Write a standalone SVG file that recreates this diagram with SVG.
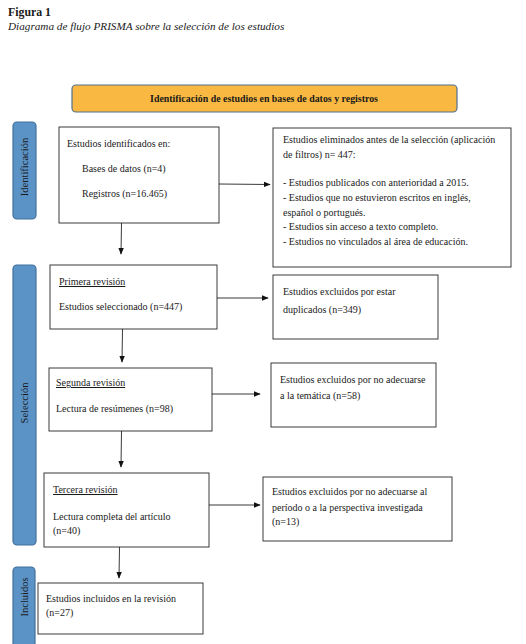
<svg xmlns="http://www.w3.org/2000/svg" width="526" height="644" viewBox="0 0 526 644">
<style>
text{font-family:"Liberation Serif","Times New Roman",serif;fill:#1a1a1a;font-size:10px}
.box{fill:#fff;stroke:#3a3a3a;stroke-width:1}
.side{fill:#5b93c7;stroke:#41719c;stroke-width:1.2}
.lbl{font-size:10.5px;text-anchor:middle}
.u{text-decoration:underline}
.con line{stroke:#222;stroke-width:0.9;marker-end:url(#ah)}
</style>
<defs>
<marker id="ah" viewBox="0 0 10 10" refX="9" refY="5" markerWidth="7" markerHeight="7" markerUnits="userSpaceOnUse" orient="auto">
<path d="M0,1 L10,5 L0,9 z" fill="#111"/>
</marker>
</defs>
<rect width="526" height="644" fill="#fff"/>
<g id="caption">
<text x="8" y="16" style="font-size:11.8px;font-weight:bold">Figura 1</text>
<text x="8" y="30" style="font-size:11.2px;font-style:italic">Diagrama de flujo PRISMA sobre la selección de los estudios</text>
</g>
<g id="header">
<rect x="72" y="85" width="385" height="27" rx="4" fill="#f8b841" stroke="#51708f" stroke-width="1.2"/>
<text x="264" y="101.5" style="font-size:9.9px;font-weight:bold;text-anchor:middle">Identificación de estudios en bases de datos y registros</text>
</g>
<g id="side-identificacion">
<rect class="side" x="13" y="122" width="23" height="97" rx="4"/>
<text class="lbl" transform="translate(28,167) rotate(-90)">Identificación</text>
</g>
<g id="side-seleccion">
<rect class="side" x="13" y="265" width="23" height="280" rx="4"/>
<text class="lbl" transform="translate(28,403) rotate(-90)">Selección</text>
</g>
<g id="side-incluidos">
<rect class="side" x="13" y="567" width="22" height="82" rx="4"/>
<text class="lbl" transform="translate(27.5,597) rotate(-90)">Incluidos</text>
</g>
<g id="n-identificados">
<rect class="box" x="59" y="127" width="160" height="96"/>
<text x="67" y="147">Estudios identificados en:</text>
<text x="82" y="172">Bases de datos (n=4)</text>
<text x="82" y="197">Registros (n=16.465)</text>
</g>
<g id="n-eliminados">
<rect class="box" x="273" y="128" width="238" height="139"/>
<text x="283" y="143">Estudios eliminados antes de la selección (aplicación</text>
<text x="283" y="158">de filtros) n= 447:</text>
<text x="283" y="186">- Estudios publicados con anterioridad a 2015.</text>
<text x="283" y="201">- Estudios que no estuvieron escritos en inglés,</text>
<text x="283" y="216">español o portugués.</text>
<text x="283" y="230">- Estudios sin acceso a texto completo.</text>
<text x="283" y="245">- Estudios no vinculados al área de educación.</text>
</g>
<g id="n-primera">
<rect class="box" x="50" y="265" width="167" height="64"/>
<text x="59" y="285" class="u">Primera revisión</text>
<text x="59" y="310">Estudios seleccionado (n=447)</text>
</g>
<g id="n-duplicados">
<rect class="box" x="273" y="275" width="165" height="64"/>
<text x="283" y="295">Estudios excluidos por estar</text>
<text x="283" y="313">duplicados (n=349)</text>
</g>
<g id="n-segunda">
<rect class="box" x="49" y="368" width="163" height="63"/>
<text x="56" y="386" class="u">Segunda revisión</text>
<text x="56" y="412">Lectura de resúmenes (n=98)</text>
</g>
<g id="n-tematica">
<rect class="box" x="271" y="363" width="165" height="64"/>
<text x="280" y="383">Estudios excluidos por no adecuarse</text>
<text x="280" y="399">a la temática (n=58)</text>
</g>
<g id="n-tercera">
<rect class="box" x="44" y="473" width="165" height="74"/>
<text x="53" y="493" class="u">Tercera revisión</text>
<text x="53" y="520">Lectura completa del artículo</text>
<text x="53" y="534">(n=40)</text>
</g>
<g id="n-periodo">
<rect class="box" x="263" y="477" width="189" height="64"/>
<text x="272" y="495">Estudios excluidos por no adecuarse al</text>
<text x="272" y="511">período o a la perspectiva investigada</text>
<text x="272" y="525">(n=13)</text>
</g>
<g id="n-incluidos">
<rect class="box" x="38" y="583" width="165" height="51"/>
<text x="46" y="602">Estudios incluidos en la revisión</text>
<text x="46" y="616">(n=27)</text>
</g>
<g class="con" id="connectors">
<line x1="219" y1="184" x2="270" y2="184.5"/>
<line x1="121.5" y1="223" x2="121" y2="254"/>
<line x1="217" y1="298" x2="268" y2="298"/>
<line x1="122.5" y1="329" x2="122" y2="362"/>
<line x1="212" y1="394" x2="260" y2="394"/>
<line x1="121.5" y1="431" x2="121" y2="467"/>
<line x1="209" y1="505" x2="260" y2="505"/>
<line x1="119.5" y1="547" x2="119" y2="578"/>
</g>
</svg>
